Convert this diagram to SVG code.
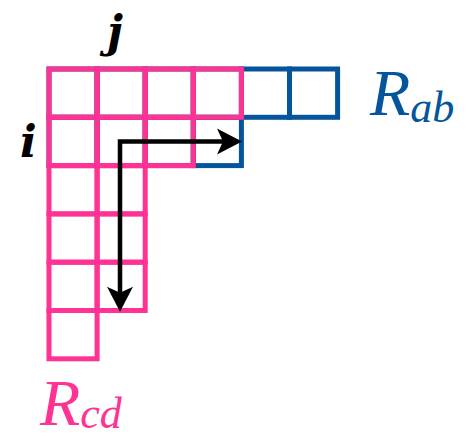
<svg xmlns="http://www.w3.org/2000/svg" width="468" height="438" viewBox="0 0 468 438">
<style>
.b{fill:none;stroke:#04559b;stroke-width:5}
.p{fill:none;stroke:#fe3393;stroke-width:5}
.arr{fill:none;stroke:#000;stroke-width:4.5;stroke-linejoin:miter}
.head{fill:#000}
.idx{font-family:"DejaVu Serif",serif;font-style:italic;font-weight:bold;fill:#000}
.lbl{font-family:"Liberation Serif",serif;font-style:italic}
</style>
<defs>
<rect id="cell" width="48.1" height="48.3"/>
</defs>
<rect width="468" height="438" fill="#fff"/>
<g id="Rab">
<use href="#cell" class="b" x="49" y="69"/>
<use href="#cell" class="b" x="97.1" y="69"/>
<use href="#cell" class="b" x="145.2" y="69"/>
<use href="#cell" class="b" x="193.3" y="69"/>
<use href="#cell" class="b" x="241.4" y="69"/>
<use href="#cell" class="b" x="289.5" y="69"/>
<use href="#cell" class="b" x="49" y="117.3"/>
<use href="#cell" class="b" x="97.1" y="117.3"/>
<use href="#cell" class="b" x="145.2" y="117.3"/>
<use href="#cell" class="b" x="193.3" y="117.3"/>
</g>
<g id="Rcd">
<use href="#cell" class="p" x="49" y="69"/>
<use href="#cell" class="p" x="97.1" y="69"/>
<use href="#cell" class="p" x="145.2" y="69"/>
<use href="#cell" class="p" x="193.3" y="69"/>
<use href="#cell" class="p" x="49" y="117.3"/>
<use href="#cell" class="p" x="97.1" y="117.3"/>
<use href="#cell" class="p" x="145.2" y="117.3"/>
<use href="#cell" class="p" x="49" y="165.6"/>
<use href="#cell" class="p" x="97.1" y="165.6"/>
<use href="#cell" class="p" x="49" y="213.9"/>
<use href="#cell" class="p" x="97.1" y="213.9"/>
<use href="#cell" class="p" x="49" y="262.2"/>
<use href="#cell" class="p" x="97.1" y="262.2"/>
<use href="#cell" class="p" x="49" y="310.5"/>
</g>
<g id="connectors">
<path class="arr" d="M120,296 L120,141.5 L226,141.5"/>
<path class="head" d="M242,141.5 L217,128.5 L223,141.5 L217,154.5 Z"/>
<path class="head" d="M120,311.7 L107,286.7 L120,292.7 L133,286.7 Z"/>
</g>
<g id="label-j"><text class="idx" x="107" y="47" font-size="44">j</text></g>
<g id="label-i"><text class="idx" x="20" y="157" font-size="44">i</text></g>
<g id="label-Rab"><text class="lbl" x="370" y="115" font-size="66" fill="#04559b">R<tspan font-size="44" dy="7">ab</tspan></text></g>
<g id="label-Rcd"><text class="lbl" x="40" y="425" font-size="66" fill="#fe3393">R<tspan font-size="44" dy="3">cd</tspan></text></g>
</svg>
